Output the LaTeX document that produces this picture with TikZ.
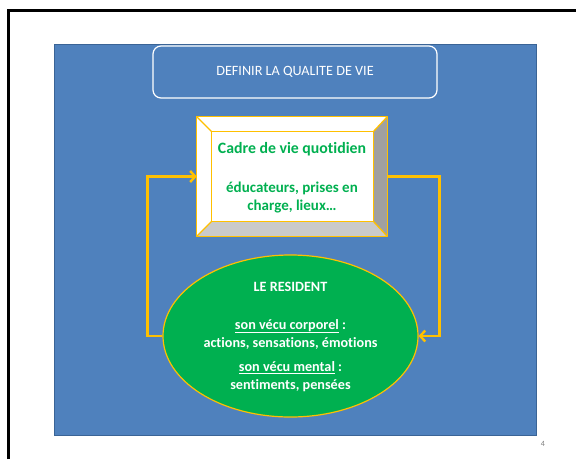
\documentclass[tikz,border=0pt]{standalone}
\usepackage{fontspec}
\setmainfont{Carlito}[Ligatures={NoCommon}]
\usetikzlibrary{shapes.geometric,arrows.meta,calc}
\definecolor{slideblue}{HTML}{4F81BD}
\definecolor{slideedge}{HTML}{3A6496}
\definecolor{gold}{HTML}{FFC000}
\definecolor{grn}{HTML}{00B050}
\definecolor{bevright}{HTML}{A0A0A0}
\definecolor{bevbottom}{HTML}{CACACA}
\tikzset{
  conn/.style={draw=gold, line width=2.6pt, -{Straight Barb[length=5pt,width=11pt,line width=2.4pt]}},
  bevline/.style={draw=gold, line width=1.3pt, line join=round},
  greentext/.style={text=grn, font=\fontsize{15}{18}\selectfont\bfseries, align=center},
  whitetext/.style={text=white, font=\fontsize{14.2}{18}\selectfont\bfseries, align=center},
}
\begin{document}
\begin{tikzpicture}[x=1pt,y=-1pt]
\useasboundingbox (0,0) rectangle (576,459);
\fill[white] (0,0) rectangle (576,459);
\draw[line width=3pt] (8,459) -- (8,10) -- (576,10);
\filldraw[fill=slideblue, draw=slideedge, line width=0.8pt] (54,44) rectangle (536,435);
\node[text=gray, font=\fontsize{8}{9}\selectfont] (pnum) at (543,444) {4};

% title
\node[draw=white, line width=1.2pt, rounded corners=8pt, minimum width=284pt, minimum height=52pt,
      text=white, font=\fontsize{14.2}{16}\selectfont] (title) at (295,72) {DEFINIR LA QUALITE DE VIE};

% bevel box
\node[minimum width=190pt, minimum height=119pt, inner sep=0pt] (cadre) at (292,176.5) {};
\coordinate (onw) at (cadre.north west);
\coordinate (one) at (cadre.north east);
\coordinate (osw) at (cadre.south west);
\coordinate (ose) at (cadre.south east);
\coordinate (inw) at ($(onw)+(15,15)$);
\coordinate (ine) at ($(one)+(-14,15)$);
\coordinate (isw) at ($(osw)+(15,-15)$);
\coordinate (ise) at ($(ose)+(-14,-15)$);
\fill[white] (onw) -- (one) -- (ose) -- (osw) -- cycle;
\fill[bevright] (one) -- (ose) -- (ise) -- (ine) -- cycle;
\fill[bevbottom] (osw) -- (ose) -- (ise) -- (isw) -- cycle;
\draw[bevline] (onw) -- (one) -- (ose) -- (osw) -- cycle;
\draw[bevline] (inw) -- (ine) -- (ise) -- (isw) -- cycle;
\draw[bevline] (onw) -- (inw) (one) -- (ine) (ose) -- (ise) (osw) -- (isw);
\node[greentext, font=\fontsize{15.8}{18}\selectfont\bfseries] (cadretitle) at (292,149) {Cadre de vie quotidien};
\node[greentext] (cadretext) at (292,198) {éducateurs, prises en\\charge, lieux…};

% ellipse
\node[ellipse, draw=gold, fill=grn, line width=1.2pt, minimum width=255pt, minimum height=162pt, inner sep=0pt] (res) at (290.5,336) {};
\node[whitetext] (restitle) at (290.5,287) {LE RESIDENT};
\node[whitetext] (corps) at (290.5,334) {\underline{son vécu corporel} :\\actions, sensations, émotions};
\node[whitetext] (mental) at (290.5,377) {\underline{son vécu mental} :\\sentiments, pensées};

% connectors
\draw[conn] (res.west) -- ++(-15,0) |- (cadre.west);
\draw[conn] (cadre.east) -- ++(52,0) |- (res.east);
\end{tikzpicture}
\end{document}
